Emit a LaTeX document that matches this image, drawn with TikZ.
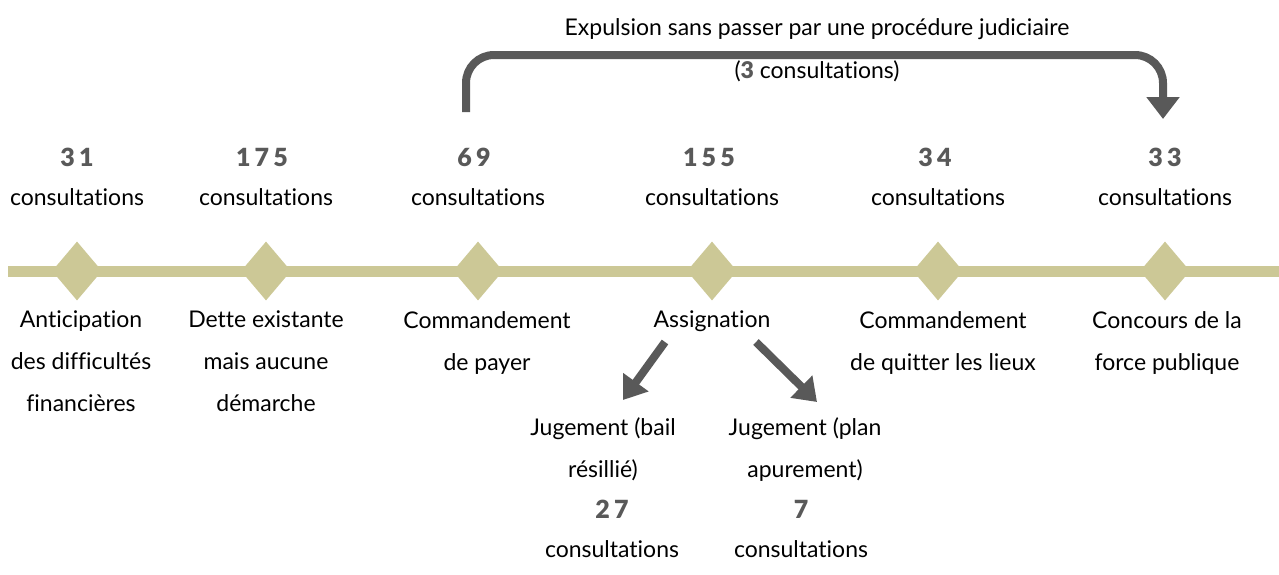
\documentclass[tikz,border=0pt]{standalone}
\usepackage{fontspec}
\setmainfont{Lato}[Ligatures=NoCommon]
\IfFontExistsTF{Lato Black}{\newfontfamily\numfont{Lato Black}}{\newcommand\numfont{\bfseries}}
\usetikzlibrary{arrows.meta,shapes.geometric}
\definecolor{khaki}{HTML}{CCC896}
\definecolor{darkg}{HTML}{595959}
\begin{document}
\begin{tikzpicture}[x=1pt,y=-1pt,
  num/.style={font=\fontsize{25}{28}\selectfont\numfont, text=darkg, inner sep=0pt},
  lbl/.style={font=\fontsize{23}{42}\selectfont, text=black, inner sep=0pt, align=center},
  milestone/.style={diamond, fill=khaki, minimum width=50pt, minimum height=59pt, inner sep=0pt, draw=none},
  bigarrow/.style={draw=darkg, line width=8pt, -{Triangle[length=22pt,width=32pt]}},
  smallarrow/.style={draw=darkg, line width=8pt, -{Triangle[length=22pt,width=30pt]}}]
\useasboundingbox (0,0) rectangle (1279,574);
% timeline
\coordinate (l0) at (8,271);
\coordinate (l1) at (1279,271);
\draw[khaki, line width=11pt] (l0) -- (l1);
% diamonds
\foreach \x/\n in {77/d1,266/d2,478/d3,712/d4,938/d5,1165/d6}{
  \node[milestone] (\n) at (\x,271) {};
}
% counts
\node[num] (n1) at (77,157) {3\,1};
\node[num] (n2) at (262,157) {1\,7\,5};
\node[num] (n3) at (474,157) {6\,9};
\node[num] (n4) at (709,157) {1\,5\,5};
\node[num] (n5) at (935,157) {3\,4};
\node[num] (n6) at (1165,157) {3\,3};
\foreach \x/\n in {77/c1,266/c2,478/c3,712/c4,938/c5,1165/c6}{
  \node[lbl] (\n) at (\x,197) {consultations};
}
% labels below
\node[lbl, anchor=north] (t1) at (81,311) {Anticipation\\des difficultés\\financières};
\node[lbl, anchor=north] (t2) at (266,311) {Dette existante\\mais aucune\\démarche};
\node[lbl, anchor=north] (t3) at (487,311) {Commandement\\de payer};
\node[lbl, anchor=north] (t4) at (712,311) {Assignation};
\node[lbl, anchor=north] (t5) at (943,311) {Commandement\\de quitter les lieux};
\node[lbl, anchor=north] (t6) at (1167,311) {Concours de la\\force publique};
% judgements
\node[lbl, anchor=north] (j1) at (603,417) {Jugement (bail\\résillié)};
\node[num] (j1n) at (612,509) {2\,7};
\node[lbl] (j1c) at (612,549) {consultations};
\node[lbl, anchor=north] (j2) at (805,417) {Jugement (plan\\apurement)};
\node[num] (j2n) at (801,509) {7};
\node[lbl] (j2c) at (801,549) {consultations};
% small arrows
\coordinate (a1s) at (665,342);
\coordinate (a1e) at (623,400);
\coordinate (a2s) at (756,342);
\coordinate (a2e) at (817,402);
\draw[smallarrow] (a1s) -- (a1e);
\draw[smallarrow] (a2s) -- (a2e);
% top arrow
\coordinate (ts) at (466,112);
\coordinate (te) at (1163,119);
\draw[bigarrow, rounded corners=28pt] (ts) -- (466,55) -- (1163,55) -- (te);
\node[lbl] (top1) at (817,29) {Expulsion sans passer par une procédure judiciaire};
\node[lbl] (top2) at (817,71) {({\numfont\textcolor{darkg}{3}} consultations)};
\end{tikzpicture}
\end{document}
